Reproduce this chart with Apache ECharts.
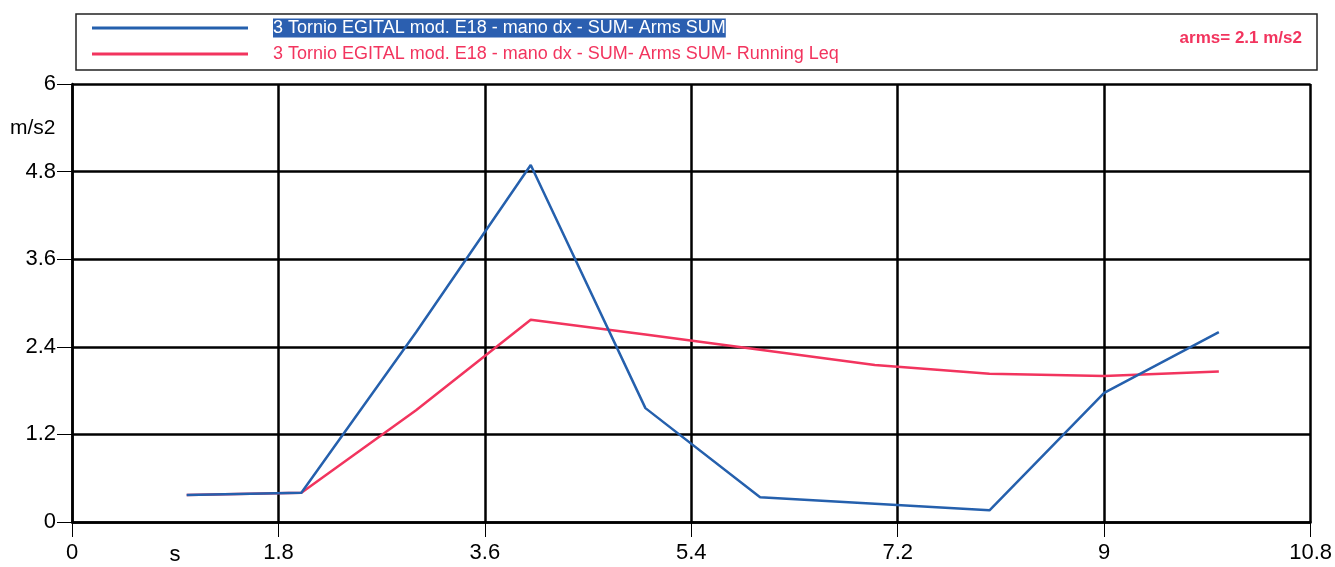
<!DOCTYPE html>
<html>
<head>
    <meta charset="utf-8">
    <title>Arms SUM</title>
    <script src="https://cdn.jsdelivr.net/npm/echarts@6/dist/echarts.min.js"></script>
</head>
<body style="margin: 0; background: #fff">
    <div id="container" style="width: 1335px; height: 567px"></div>
    <script>
        // dati
        var times = [1, 2, 3, 4, 5, 6, 7, 8, 9, 10];
        var armsSum = [0.37, 0.40, 2.60, 4.89, 1.56, 0.34, 0.25, 0.16, 1.77, 2.60];
        var runningLeq = [0.37, 0.40, 1.53, 2.77, 2.57, 2.36, 2.15, 2.03, 2.00, 2.06];
        var seriesNames = [
            '3 Tornio EGITAL mod. E18 - mano dx - SUM- Arms SUM',
            '3 Tornio EGITAL mod. E18 - mano dx - SUM- Arms SUM- Running Leq'
        ];
        var summaryText = 'arms= 2.1 m/s2';

        var font = "'Liberation Sans Narrow', 'Liberation Sans', Arial, sans-serif";
        var blue = '#2560ad';
        var red = '#f2345e';

        function pairs(xs, ys) {
            return xs.map(function (x, i) { return [x, ys[i]]; });
        }

        var myChart = echarts.init(document.getElementById('container'), null, { renderer: 'canvas' });

        var option = {
            animation: false,
            grid: { left: 72, right: 19, top: 84, bottom: 45 },
            legend: {
                orient: 'vertical',
                left: 87,
                top: 12,
                itemWidth: 156,
                itemHeight: 3,
                itemGap: 4,
                icon: 'rect',
                selectedMode: false,
                data: [seriesNames[0], seriesNames[1]],
                formatter: function (name) {
                    return name === seriesNames[0] ? '{gap|}{hl|' + name + '}' : '{gap|}{rd|' + name + '}';
                },
                textStyle: {
                    fontFamily: font,
                    fontSize: 18,
                    lineHeight: 22,
                    rich: {
                        gap: { width: 20 },
                        hl: { color: '#fff', backgroundColor: '#2b5fb0', fontSize: 18, fontFamily: font, padding: [1, 0, 0, 0] },
                        rd: { color: red, fontSize: 18, fontFamily: font }
                    }
                }
            },
            xAxis: {
                type: 'value',
                min: 0,
                max: 10.8,
                interval: 1.8,
                axisLine: { lineStyle: { color: '#000', width: 2.5 } },
                axisTick: { show: true, length: 15, lineStyle: { color: '#000', width: 1 } },
                axisLabel: {
                    color: '#000', fontSize: 22, fontFamily: font, margin: 20,
                    formatter: function (v) { return String(+v.toFixed(1)); }
                },
                splitLine: { show: true, lineStyle: { color: '#000', width: 2.5 } }
            },
            yAxis: {
                type: 'value',
                min: 0,
                max: 6,
                interval: 1.2,
                axisLine: { show: true, lineStyle: { color: '#000', width: 2.5 } },
                axisTick: { show: true, length: 15, lineStyle: { color: '#000', width: 1 } },
                axisLabel: {
                    color: '#000', fontSize: 22, fontFamily: font, margin: 16,
                    formatter: function (v) { return String(+v.toFixed(1)); }
                },
                splitLine: { show: true, lineStyle: { color: '#000', width: 2.5 } }
            },
            graphic: [
                {   // riquadro legenda
                    type: 'rect',
                    shape: { x: 76, y: 14, width: 1241, height: 56 },
                    style: { fill: 'none', stroke: '#222', lineWidth: 1.5 },
                    z: 1
                },
                {
                    type: 'text',
                    x: 1302, y: 38,
                    style: {
                        text: summaryText, fill: red, fontSize: 17, fontWeight: 'bold',
                        fontFamily: font, align: 'right', verticalAlign: 'middle'
                    }
                },
                {
                    type: 'text',
                    x: 10, y: 128,
                    style: { text: 'm/s2', fill: '#000', fontSize: 21, fontFamily: font, verticalAlign: 'middle' }
                },
                {
                    type: 'text',
                    x: 175, y: 555,
                    style: { text: 's', fill: '#000', fontSize: 22, fontFamily: font, align: 'center', verticalAlign: 'middle' }
                }
            ],
            series: [
                {
                    name: seriesNames[1],
                    type: 'line',
                    showSymbol: false,
                    color: red,
                    lineStyle: { color: red, width: 2.5 },
                    data: pairs(times, runningLeq)
                },
                {
                    name: seriesNames[0],
                    type: 'line',
                    showSymbol: false,
                    color: blue,
                    lineStyle: { color: blue, width: 2.5 },
                    data: pairs(times, armsSum)
                }
            ]
        };

        myChart.setOption(option);
        window.addEventListener('resize', myChart.resize);
    </script>
</body>
</html>
